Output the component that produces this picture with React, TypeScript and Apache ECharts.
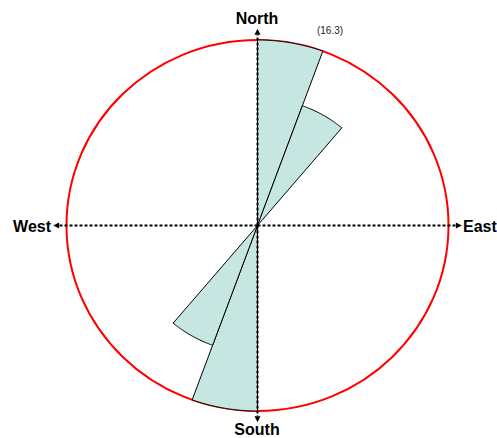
import React, { useEffect, useRef } from "react";
import * as echarts from "echarts";

// Rose sectors: compass start angle, end angle (degrees, clockwise from North), length
const sectorStart = [0, 20, 180, 200];
const sectorEnd = [20, 40, 200, 220];
const sectorValue = [16.3, 11.2, 16.3, 11.2];
const maxValue = 16.3;
const directionLabels = ["North", "East", "South", "West"];
const ringLabel = "(16.3)";

export default function App() {
  const ref = useRef<HTMLDivElement>(null);
  useEffect(() => {
    document.body.style.margin = "0";
    const chart = echarts.init(ref.current!, null, { renderer: "svg" });
    const sectors = sectorStart.map((s, i) => [s, sectorEnd[i], sectorValue[i]]);
    const toXY = (deg: number, r: number) => {
      const a = (deg * Math.PI) / 180;
      return [r * Math.sin(a), r * Math.cos(a)];
    };
    chart.setOption({
      animation: false,
      grid: { left: 66.5, top: 40, width: 382, height: 371 },
      xAxis: { type: "value", min: -maxValue, max: maxValue, show: false },
      yAxis: { type: "value", min: -maxValue, max: maxValue, show: false },
      series: [
        {
          type: "custom",
          z: 1,
          data: [[maxValue]],
          renderItem: (params: any, api: any) => {
            const c = api.coord([0, 0]);
            const e = api.coord([api.value(0), api.value(0)]);
            return {
              type: "ellipse",
              shape: { cx: c[0], cy: c[1], rx: e[0] - c[0], ry: c[1] - e[1] },
              style: { fill: "none", stroke: "#ff0000", lineWidth: 2 },
            };
          },
        },
        {
          type: "custom",
          z: 2,
          data: sectors,
          renderItem: (params: any, api: any) => {
            const s = api.value(0);
            const e = api.value(1);
            const r = api.value(2);
            const pts: number[][] = [api.coord([0, 0])];
            const n = 40;
            for (let k = 0; k <= n; k++) {
              const d = s + ((e - s) * k) / n;
              pts.push(api.coord(toXY(d, r)));
            }
            return {
              type: "polygon",
              shape: { points: pts },
              style: { fill: "#c6e7e1", stroke: "#000", lineWidth: 1 },
            };
          },
        },
        {
          type: "custom",
          z: 3,
          data: [[0], [90], [180], [270]],
          renderItem: (params: any, api: any) => {
            const deg = api.value(0);
            const c = api.coord([0, 0]);
            const horiz = deg === 90 || deg === 270;
            const ext = maxValue * (horiz ? 1.07 : 1.06);
            const tip = api.coord(toXY(deg, ext));
            const dx = tip[0] - c[0];
            const dy = tip[1] - c[1];
            const len = Math.sqrt(dx * dx + dy * dy);
            const ux = dx / len;
            const uy = dy / len;
            const base = [tip[0] - ux * 6, tip[1] - uy * 6];
            const px = -uy * 3;
            const py = ux * 3;
            return {
              type: "group",
              children: [
                {
                  type: "line",
                  shape: { x1: c[0], y1: c[1], x2: base[0], y2: base[1] },
                  style: { stroke: "#000", lineWidth: 2, lineDash: [3, 2] },
                },
                {
                  type: "polygon",
                  shape: {
                    points: [tip, [base[0] + px, base[1] + py], [base[0] - px, base[1] - py]],
                  },
                  style: { fill: "#000" },
                },
              ],
            };
          },
        },
      ],
      graphic: [
        {
          type: "text",
          x: 257,
          y: 18,
          style: { text: directionLabels[0], font: "bold 16px 'Liberation Sans', Arial", fill: "#000", align: "center", verticalAlign: "middle" },
        },
        {
          type: "text",
          x: 463,
          y: 226,
          style: { text: directionLabels[1], font: "bold 16px 'Liberation Sans', Arial", fill: "#000", align: "left", verticalAlign: "middle" },
        },
        {
          type: "text",
          x: 257,
          y: 429,
          style: { text: directionLabels[2], font: "bold 16px 'Liberation Sans', Arial", fill: "#000", align: "center", verticalAlign: "middle" },
        },
        {
          type: "text",
          x: 51,
          y: 226,
          style: { text: directionLabels[3], font: "bold 16px 'Liberation Sans', Arial", fill: "#000", align: "right", verticalAlign: "middle" },
        },
        {
          type: "text",
          x: 330,
          y: 30,
          style: { text: ringLabel, font: "10px 'Liberation Sans', Arial", fill: "#222", align: "center", verticalAlign: "middle" },
        },
      ],
    });
    return () => chart.dispose();
  }, []);
  return <div ref={ref} style={{ width: 497, height: 438 }} />;
}
